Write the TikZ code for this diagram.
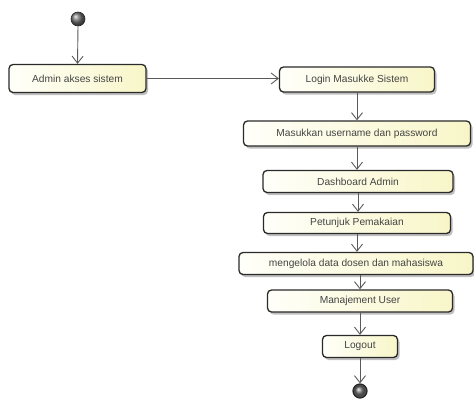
\documentclass[tikz,border=0pt]{standalone}
\usepackage{fontspec}
\setmainfont{Liberation Sans}
\usetikzlibrary{arrows.meta,shadows,calc}

\definecolor{boxedge}{HTML}{2A2A2A}
\definecolor{boxleft}{HTML}{FFFFFA}
\definecolor{boxright}{HTML}{F8F6C8}
\definecolor{flowline}{HTML}{5A5A5A}
\definecolor{labeltext}{HTML}{444444}

\tikzset{
  action/.style={
    draw=boxedge, line width=1.3pt, rounded corners=4pt,
    left color=boxleft, right color=boxright,
    drop shadow={shadow xshift=2pt, shadow yshift=-2.5pt, opacity=0.25, fill=black},
    inner sep=0pt, align=center,
    font=\fontsize{10.2}{12}\selectfont, text=labeltext
  },
  flow/.style={
    draw=flowline, line width=0.9pt,
    -{Straight Barb[length=7pt,width=11pt,line width=0.9pt]}
  },
  startdot/.style={circle, draw=black!85, line width=0.6pt,
    ball color=black!55, minimum size=14pt, inner sep=0pt},
  endring/.style={circle, draw=black!85, line width=1.2pt, fill=black!70,
    minimum size=14pt, inner sep=0pt},
  enddot/.style={circle, ball color=black!45, minimum size=9.5pt, inner sep=0pt}
}

\begin{document}
\begin{tikzpicture}[x=1pt,y=-1pt]
  \useasboundingbox (0,0) rectangle (474,399);

  % initial state
  \node[startdot] (start) at (78,19) {};

  % actions
  \node[action, minimum width=137pt, minimum height=28pt] (admin)  at (77.5,78.5) {Admin akses sistem};
  \node[action, minimum width=155pt, minimum height=25pt] (login)  at (357,79.5) {Login Masukke Sistem};
  \node[action, minimum width=227pt, minimum height=25pt] (input)  at (357,133.5) {Masukkan username dan password};
  \node[action, minimum width=190pt, minimum height=22pt] (dash)   at (358,181.5) {Dashboard Admin};
  \node[action, minimum width=187pt, minimum height=21pt] (guide)  at (357,223) {Petunjuk Pemakaian};
  \node[action, minimum width=234pt, minimum height=22pt] (manage) at (356,263.5) {mengelola data dosen dan mahasiswa};
  \node[action, minimum width=185pt, minimum height=22pt] (users)  at (360,301) {Manajement User};
  \node[action, minimum width=75pt,  minimum height=22pt] (logout) at (360,346.5) {Logout};

  % final state
  \node[endring] (finish) at (360,391) {};
  \node[enddot] (finishcore) at (finish.center) {};

  % transitions
  \draw[flow] (start.south) -- (admin.north);
  \draw[flow] (admin.east) -- (login.west |- admin.east);
  \draw[flow] (login.south) -- (login.south |- input.north);
  \draw[flow] (input.south) -- (input.south |- dash.north);
  \draw[flow] (dash.south) -- (dash.south |- guide.north);
  \draw[flow] (guide.south) -- (guide.south |- manage.north);
  \draw[flow] (users.north |- manage.south) -- (users.north);
  \draw[flow] (users.south) -- (logout.north);
  \draw[flow] (logout.south) -- (finish.north);
\end{tikzpicture}
\end{document}
